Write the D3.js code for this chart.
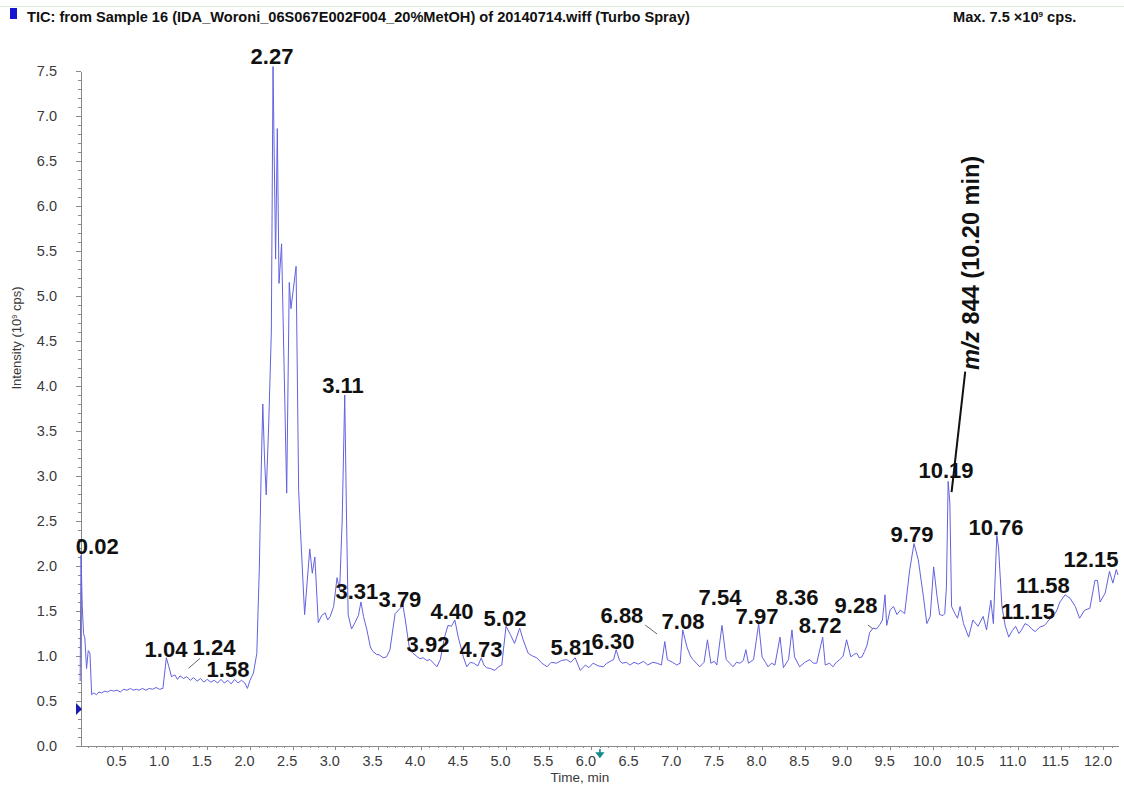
<!DOCTYPE html>
<meta charset="utf-8">
<html>
<head>
  <meta charset="utf-8">
  <title>TIC</title>
</head>
<style>
  body { margin: 0; background: #fff; }
  svg { display: block; font-family: "Liberation Sans", Arial, sans-serif; }
  .axis path, .axis line { stroke: #8a8a8a; shape-rendering: crispEdges; }
  .axis text { fill: #3a3a3a; font-size: 14.5px; font-family: "Liberation Sans", Arial, sans-serif; }
  .peak { font-size: 22px; font-weight: bold; fill: #111; }
</style>
<body>
<svg width="1124" height="785"></svg>
<script src="https://d3js.org/d3.v7.min.js"></script>
<script>

// retention time (min) and TIC intensity (1e9 cps)
var times = [0.01, 0.02, 0.035, 0.05, 0.065, 0.085, 0.105, 0.125, 0.145, 0.17,
  0.2, 0.23, 0.26, 0.3, 0.33, 0.37, 0.4, 0.44, 0.48, 0.52, 0.56, 0.6, 0.63, 0.67, 0.7, 0.74, 0.78, 0.82, 0.86, 0.9, 0.94, 0.98,
  1.02, 1.05, 1.08, 1.12, 1.15, 1.18, 1.22, 1.26, 1.3, 1.34, 1.38, 1.42, 1.46, 1.5, 1.54, 1.58, 1.62, 1.66, 1.7, 1.74, 1.78, 1.82, 1.86, 1.9, 1.94, 1.97,
  2.0, 2.04, 2.08, 2.11, 2.13, 2.15, 2.17, 2.19, 2.22, 2.25, 2.27, 2.3, 2.32, 2.34, 2.37, 2.43, 2.46, 2.48, 2.54, 2.57, 2.59, 2.64, 2.7, 2.73, 2.76, 2.8, 2.84, 2.88, 2.91, 2.94, 2.98,
  3.02, 3.05, 3.08, 3.11, 3.13, 3.15, 3.19, 3.23, 3.27, 3.3, 3.33, 3.37, 3.41, 3.44, 3.48, 3.52, 3.56, 3.6, 3.64, 3.7, 3.76, 3.79, 3.82, 3.87, 3.91, 3.95, 3.99,
  4.03, 4.07, 4.11, 4.15, 4.19, 4.23, 4.28, 4.32, 4.36, 4.4, 4.44, 4.5, 4.54, 4.58, 4.62, 4.67, 4.71, 4.74, 4.77, 4.82, 4.87, 4.91, 4.95,
  5.0, 5.05, 5.1, 5.16, 5.2, 5.26, 5.31, 5.36, 5.42, 5.48, 5.53, 5.59, 5.65, 5.71, 5.76, 5.81, 5.87, 5.93, 5.97,
  6.02, 6.08, 6.14, 6.18, 6.22, 6.26, 6.29, 6.33, 6.36, 6.41, 6.45, 6.5, 6.55, 6.61, 6.66, 6.72, 6.77, 6.82, 6.86, 6.89, 6.95,
  7.0, 7.04, 7.07, 7.12, 7.16, 7.19, 7.23, 7.27, 7.32, 7.36, 7.4, 7.44, 7.47, 7.53, 7.58, 7.62, 7.66, 7.7, 7.74, 7.78, 7.81, 7.84, 7.9, 7.96,
  8.0, 8.04, 8.07, 8.11, 8.15, 8.21, 8.25, 8.31, 8.35, 8.38, 8.44, 8.5, 8.56, 8.6, 8.64, 8.71, 8.74, 8.79, 8.83, 8.87, 8.91, 8.95, 8.99,
  9.04, 9.08, 9.11, 9.14, 9.17, 9.2, 9.23, 9.26, 9.3, 9.34, 9.38, 9.41, 9.44, 9.46, 9.5, 9.54, 9.58, 9.62, 9.67, 9.73, 9.78, 9.83, 9.89, 9.93, 9.97,
  10.01, 10.05, 10.08, 10.12, 10.14, 10.16, 10.18, 10.2, 10.22, 10.26, 10.29, 10.32, 10.36, 10.42, 10.47, 10.53, 10.59, 10.63, 10.68, 10.71, 10.75, 10.77, 10.81, 10.85, 10.89, 10.93, 10.97,
  11.01, 11.04, 11.08, 11.12, 11.16, 11.2, 11.25, 11.31, 11.36, 11.41, 11.45, 11.49, 11.55, 11.58, 11.61, 11.67, 11.72, 11.78, 11.84, 11.9, 11.93, 11.96,
  12.02, 12.07, 12.11, 12.15, 12.17];

var tic = [0.72, 2.12, 1.55, 1.25, 1.2, 0.86, 1.06, 1.03, 0.57, 0.59,
  0.57, 0.6, 0.59, 0.61, 0.6, 0.62, 0.61, 0.62, 0.6, 0.63, 0.62, 0.64, 0.62, 0.63, 0.62, 0.64, 0.62, 0.64, 0.63, 0.65, 0.63, 0.64,
  0.98, 0.88, 0.77, 0.79, 0.74, 0.78, 0.75, 0.77, 0.73, 0.76, 0.72, 0.75, 0.71, 0.74, 0.71, 0.73, 0.7, 0.74, 0.7, 0.73, 0.69, 0.74, 0.7, 0.73, 0.7, 0.64,
  0.73, 0.81, 1.03, 2.0, 3.0, 3.8, 3.2, 2.79, 3.6, 4.6, 7.55, 5.41, 6.86, 5.14, 5.58, 2.81, 5.15, 4.86, 5.33, 2.84, 2.42, 1.46, 2.19, 1.92, 2.1, 1.37, 1.45, 1.48, 1.4, 1.44, 1.55,
  1.87, 1.73, 2.5, 3.9, 2.6, 1.46, 1.3, 1.37, 1.45, 1.6, 1.44, 1.29, 1.1, 1.05, 1.02, 1.01, 0.98, 0.99, 1.07, 1.47, 1.53, 1.57, 1.4, 1.07, 1.03, 1.0, 0.97,
  0.98, 0.95, 0.96, 0.92, 0.88, 0.96, 1.21, 1.34, 1.33, 1.4, 1.21, 0.99, 0.88, 0.93, 0.92, 0.89, 0.98, 0.9, 0.87, 0.86, 0.84, 0.88, 0.9,
  1.33, 1.24, 1.14, 1.31, 1.18, 1.03, 1.0, 0.98, 0.92, 0.88, 0.93, 0.92, 0.95, 0.96, 0.93, 0.98, 0.84, 0.9, 0.87,
  0.92, 0.89, 0.88, 0.92, 0.94, 0.96, 1.07, 0.95, 0.92, 0.93, 0.9, 0.93, 0.91, 0.94, 0.9, 0.93, 0.92, 0.9, 1.16, 0.96, 0.93,
  0.9, 0.92, 1.29, 1.1, 1.0, 0.96, 0.92, 0.88, 0.93, 1.18, 0.92, 0.94, 0.9, 1.34, 0.96, 0.92, 0.88, 0.93, 0.92, 0.95, 1.07, 0.92, 0.96, 1.36,
  0.99, 0.93, 0.88, 0.92, 0.9, 1.21, 0.87, 0.96, 1.29, 0.99, 0.88, 0.93, 0.96, 0.92, 0.92, 1.21, 0.9, 0.92, 0.88, 0.93, 0.96, 1.0, 1.18,
  0.99, 1.02, 1.03, 0.98, 0.99, 1.05, 1.12, 1.26, 1.31, 1.3, 1.35, 1.4, 1.68, 1.34, 1.51, 1.55, 1.46, 1.51, 1.47, 1.96, 2.25, 2.07, 1.66, 1.36, 1.44,
  1.99, 1.66, 1.46, 1.45, 1.47, 1.77, 2.94, 2.7, 1.55, 1.47, 1.42, 1.55, 1.36, 1.21, 1.4, 1.33, 1.44, 1.29, 1.62, 1.36, 2.34, 2.21, 1.55, 1.33, 1.21, 1.28, 1.33,
  1.25, 1.29, 1.36, 1.34, 1.3, 1.27, 1.32, 1.34, 1.4, 1.44, 1.5, 1.6, 1.68, 1.66, 1.64, 1.55, 1.42, 1.51, 1.53, 1.84, 1.84, 1.6,
  1.7, 1.94, 1.81, 1.96, 1.9];

// peak labels: text, time and intensity where the label sits
var peakText = ["0.02", "1.04", "1.24", "1.58", "2.27", "3.11", "3.31", "3.79", "3.92", "4.40", "4.73", "5.02", "5.81", "6.30",
  "6.88", "7.08", "7.54", "7.97", "8.36", "8.72", "9.28", "9.79", "10.19", "10.76", "11.15", "11.58", "12.15"];
var peakT = [0.21, 1.016, 1.578, 1.742, 2.258, 3.09, 3.253, 3.757, 4.086, 4.367, 4.707, 4.988, 5.773, 6.253,
  6.358, 7.073, 7.507, 7.94, 8.409, 8.679, 9.10, 9.756, 10.155, 10.74, 11.115, 11.29, 11.853];
var peakI = [2.13, 0.99, 1.01, 0.767, 7.58, 3.92, 1.63, 1.55, 1.05, 1.41, 0.99, 1.33, 1.01, 1.08,
  1.37, 1.30, 1.57, 1.36, 1.57, 1.26, 1.48, 2.27, 2.98, 2.34, 1.41, 1.70, 1.99];

// leader lines [t1, i1, t2, i2]
var leaders = [[1.28, 0.863, 1.414, 0.974], [6.63, 1.344, 6.77, 1.244], [9.24, 1.344, 9.30, 1.30]];
var mzLeader = [10.38, 4.16, 10.22, 2.82];

var xMajor = d3.range(0.5, 12.01, 0.5);
var xMinor = d3.range(0.1, 12.15, 0.1);
var yMajor = d3.range(0, 7.51, 0.5);
var yMinor = d3.range(0, 7.51, 0.1);

var svg = d3.select("svg");

var x = d3.scaleLinear().domain([0.02, 12.17]).range([81, 1118]);
var y = d3.scaleLinear().domain([0, 7.5]).range([746, 71]);

// header
svg.append("line").attr("x1", 0).attr("x2", 1124).attr("y1", 6.5).attr("y2", 6.5)
  .attr("stroke", "#dcebdc").attr("stroke-width", 1);
svg.append("rect").attr("x", 10).attr("y", 8).attr("width", 7).attr("height", 11).attr("fill", "#1414d2");
svg.append("text").attr("x", 27).attr("y", 22)
  .style("font-size", "14.6px").style("font-weight", "bold").attr("fill", "#111")
  .text("TIC: from Sample 16 (IDA_Woroni_06S067E002F004_20%MetOH) of 20140714.wiff (Turbo Spray)");
var mx = svg.append("text").attr("x", 953).attr("y", 22)
  .style("font-size", "14.6px").style("font-weight", "bold").attr("fill", "#111");
mx.append("tspan").text("Max. 7.5 \u00d710");
mx.append("tspan").attr("dy", -5).style("font-size", "8px").text("9");
mx.append("tspan").attr("dy", 5).text(" cps.");

// axes
var fmt = d3.format(".1f");
svg.append("g").attr("class", "axis").attr("transform", "translate(0,746)")
  .call(d3.axisBottom(x).tickValues(xMinor).tickSize(2).tickFormat(""))
  .select(".domain").remove();
var xa = svg.append("g").attr("class", "axis").attr("transform", "translate(0,746)")
  .call(d3.axisBottom(x).tickValues(xMajor).tickSize(4).tickSizeOuter(0).tickPadding(6).tickFormat(fmt));
xa.selectAll("text").attr("dx", -6);

svg.append("g").attr("class", "axis").attr("transform", "translate(81,0)")
  .call(d3.axisLeft(y).tickValues(yMinor).tickSize(3).tickFormat(""))
  .select(".domain").remove();
svg.append("g").attr("class", "axis").attr("transform", "translate(81,0)")
  .call(d3.axisLeft(y).tickValues(yMajor).tickSize(5).tickSizeOuter(0).tickPadding(19).tickFormat(fmt));

svg.append("text").attr("x", 580).attr("y", 782).attr("text-anchor", "middle")
  .style("font-size", "13.5px").attr("fill", "#3a3a3a").text("Time, min");

var yt = svg.append("text").attr("transform", "translate(21,338) rotate(-90)")
  .attr("text-anchor", "middle").style("font-size", "13px").attr("fill", "#3a3a3a");
yt.append("tspan").text("Intensity (10");
yt.append("tspan").attr("dy", -4).style("font-size", "7.5px").text("9");
yt.append("tspan").attr("dy", 4).text(" cps)");

// markers on the axes
svg.append("path").attr("d", "M76,703 L82,709 L76,715 Z").attr("fill", "#1a1ab4");
svg.append("path")
  .attr("d", "M" + x(6.1) + ",749 v5 M" + (x(6.1) - 3) + ",753 L" + x(6.1) + ",757 L" + (x(6.1) + 3) + ",753 Z")
  .attr("stroke", "#138a8a").attr("stroke-width", 1.6).attr("fill", "#138a8a");

// trace
var pts = times.map(function(t, i) { return [t, tic[i]]; });
var line = d3.line().x(function(d) { return x(d[0]); }).y(function(d) { return y(d[1]); });
svg.append("path").datum(pts).attr("d", line)
  .attr("fill", "none").attr("stroke", "#6262e0").attr("stroke-width", 1);

// leader lines
svg.selectAll(".leader").data(leaders).enter().append("line").attr("class", "leader")
  .attr("x1", function(d) { return x(d[0]); }).attr("y1", function(d) { return y(d[1]); })
  .attr("x2", function(d) { return x(d[2]); }).attr("y2", function(d) { return y(d[3]); })
  .attr("stroke", "#666").attr("stroke-width", 1);

// peak labels
svg.selectAll(".peak").data(peakText).enter().append("text").attr("class", "peak")
  .attr("x", function(d, i) { return x(peakT[i]); })
  .attr("y", function(d, i) { return y(peakI[i]); })
  .attr("text-anchor", "middle")
  .text(function(d) { return d; });

// m/z annotation
svg.append("line")
  .attr("x1", x(mzLeader[0])).attr("y1", y(mzLeader[1]))
  .attr("x2", x(mzLeader[2])).attr("y2", y(mzLeader[3]))
  .attr("stroke", "#111").attr("stroke-width", 2);
var mz = svg.append("text").attr("transform", "translate(979,263) rotate(-90)")
  .attr("text-anchor", "middle").style("font-size", "23.5px").style("font-weight", "bold").attr("fill", "#111");
mz.append("tspan").style("font-style", "italic").text("m/z");
mz.append("tspan").text(" 844 (10.20 min)");

</script>
</body>
</html>
